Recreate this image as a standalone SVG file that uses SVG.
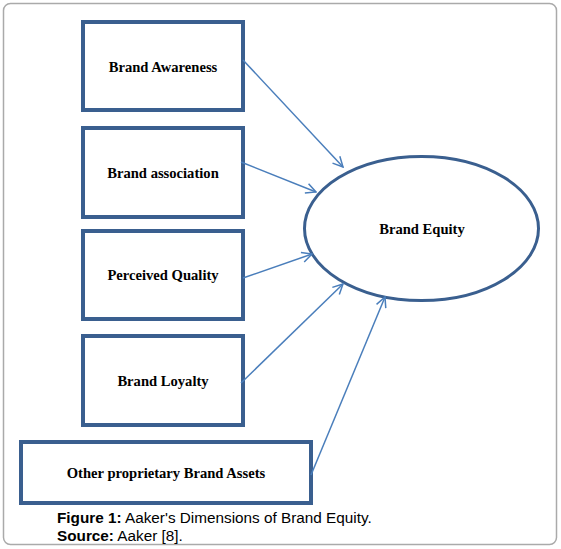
<svg xmlns="http://www.w3.org/2000/svg" width="561" height="549" viewBox="0 0 561 549">
<style>
.box{fill:#fff;stroke:#3a5f8f;stroke-width:4}
.ell{fill:#fff;stroke:#3a5f8f;stroke-width:3}
.lbl{font-family:"Liberation Serif","Times New Roman",serif;font-weight:bold;font-size:14.6px;fill:#000;text-anchor:middle}
.conn{stroke:#4a7ebb;stroke-width:1.5;fill:none;marker-end:url(#ah)}
.cap{font-family:"Liberation Sans",Arial,sans-serif;font-size:15.3px;fill:#000}
</style>
<defs>
<marker id="ah" viewBox="0 0 12 12" refX="11" refY="6" markerWidth="12" markerHeight="12" markerUnits="userSpaceOnUse" orient="auto">
<polyline points="1,1 11,6 1,11" fill="none" stroke="#4a7ebb" stroke-width="1.5"/>
</marker>
</defs>
<rect x="3.5" y="3.5" width="553" height="541" rx="7" fill="#fff" stroke="#aaa" stroke-width="1.5"/>
<g id="n1"><rect class="box" x="83" y="22" width="160" height="88"/><text class="lbl" x="163" y="72">Brand Awareness</text></g>
<g id="n2"><rect class="box" x="83" y="128" width="160" height="89"/><text class="lbl" x="163" y="178">Brand association</text></g>
<g id="n3"><rect class="box" x="83" y="231" width="160" height="88"/><text class="lbl" x="163" y="280">Perceived Quality</text></g>
<g id="n4"><rect class="box" x="83" y="336" width="160" height="89"/><text class="lbl" x="163" y="386">Brand Loyalty</text></g>
<g id="n5"><rect class="box" x="21" y="442" width="290" height="61"/><text class="lbl" x="166" y="478">Other proprietary Brand Assets</text></g>
<g id="n6"><ellipse class="ell" cx="421.5" cy="228.5" rx="117" ry="72"/><text class="lbl" x="422" y="234">Brand Equity</text></g>
<g id="connectors">
<line class="conn" x1="243" y1="60" x2="343" y2="167"/>
<line class="conn" x1="241" y1="162" x2="316" y2="192"/>
<line class="conn" x1="243" y1="278" x2="312" y2="254"/>
<line class="conn" x1="241" y1="383" x2="343" y2="284"/>
<line class="conn" x1="311" y1="475" x2="385" y2="297"/>
</g>
<text class="cap" x="57" y="523"><tspan font-weight="bold">Figure 1:</tspan> Aaker's Dimensions of Brand Equity.</text>
<text class="cap" x="57" y="541"><tspan font-weight="bold">Source:</tspan> Aaker [8].</text>
</svg>
